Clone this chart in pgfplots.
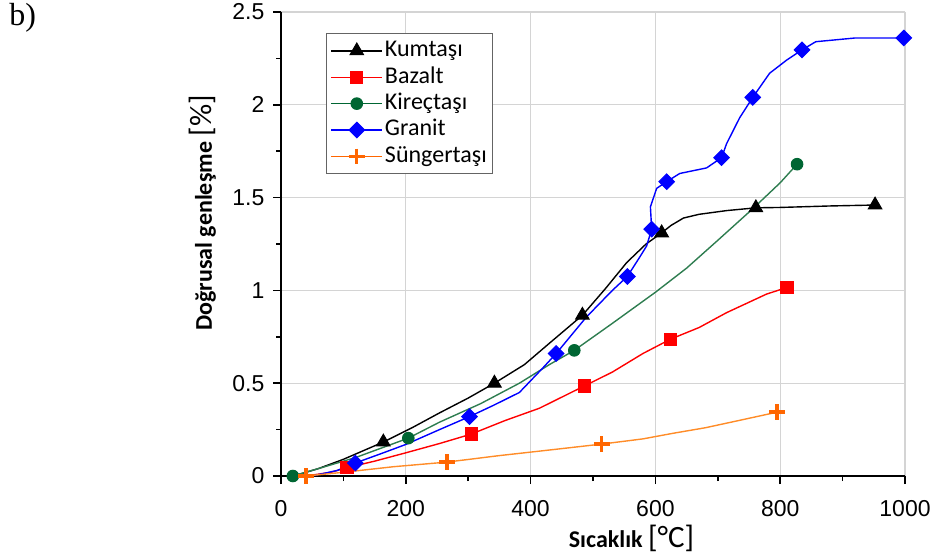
\documentclass[border=0pt]{standalone}
\usepackage{fontspec}
\setmainfont{Carlito}
\newfontfamily\arialfont{Liberation Sans}
\newfontfamily\timesfont{Liberation Serif}
\usepackage{pgfplots}
\pgfplotsset{compat=1.18}
\definecolor{gridgray}{RGB}{212,212,212}
\definecolor{kgreenline}{RGB}{46,125,80}
\definecolor{kgreen}{RGB}{0,102,51}
\definecolor{sorangeline}{RGB}{255,140,40}
\definecolor{sorange}{RGB}{255,102,0}
\definecolor{gblue}{RGB}{0,0,255}
\definecolor{bred}{RGB}{255,0,0}
\pgfplotsset{
  kumline/.style={black, line width=0.7pt},
  kummark/.style={black, mark=triangle*, mark size=3.9pt, mark options={solid, fill=black, line width=0.5pt}},
  bazline/.style={bred, line width=0.7pt},
  bazmark/.style={bred, mark=square*, mark size=3.1pt, mark options={solid, fill=bred, line width=0.5pt}},
  kirline/.style={kgreenline, line width=0.7pt},
  kirmark/.style={kgreen, mark=*, mark size=2.9pt, mark options={solid, fill=kgreen, line width=0.5pt}},
  graline/.style={gblue, line width=0.7pt},
  gramark/.style={gblue, mark=square*, mark size=2.75pt, mark options={solid, fill=gblue, rotate=45, line width=0.5pt}},
  sunline/.style={sorangeline, line width=0.7pt},
  sunmark/.style={sorange, mark=+, mark size=3.9pt, mark options={solid, line width=1.7pt}},
}
\begin{document}
\begin{tikzpicture}
\path[use as bounding box] (0,0) rectangle (465pt,279.5pt);
\node[anchor=base west, font=\timesfont\fontsize{16}{18}\selectfont, inner sep=0pt] at (4.5pt,267pt) {b)};
\begin{axis}[
  at={(140.5pt,41.5pt)}, anchor=south west,
  width=312pt, height=232pt, scale only axis,
  xmin=0, xmax=1000, ymin=0, ymax=2.5,
  axis x line*=bottom, axis y line*=left,
  axis line style={line width=1pt, black},
  xtick={0,200,400,600,800,1000},
  ytick={0,0.5,1,1.5,2,2.5},
  minor x tick num=1, minor y tick num=1,
  tick align=outside, major tick length=4pt, minor tick length=2.5pt,
  every tick/.style={black, line width=0.8pt},
  grid=major, major grid style={gridgray, line width=0.6pt},
  tick label style={font=\arialfont\fontsize{11.5}{13}\selectfont},
  xticklabel style={yshift=-4.5pt},
  yticklabel style={xshift=-0.8pt},
  /pgf/number format/assume math mode=true,
  /pgf/number format/1000 sep={},
  xlabel={\bfseries S\i cakl\i k \mdseries\fontsize{15.5}{15.5}\selectfont[°C]},
  ylabel={\bfseries Do\u{g}rusal genle\c{s}me \mdseries\fontsize{15.5}{15.5}\selectfont[\%]},
  xlabel style={at={(rel axis cs:0.5617,-0.153)}, anchor=base, inner sep=0pt},
  ylabel style={at={(rel axis cs:-0.1106,0.567)}, anchor=base, inner sep=0pt},
  label style={font=\fontsize{12}{13}\selectfont},
  legend style={at={(rel axis cs:0.0721,0.9547)}, anchor=north west,
    draw={rgb,255:red,100;green,100;blue,100}, line width=0.6pt,
    font=\fontsize{12}{13}\selectfont, inner xsep=2pt, inner ysep=2pt,
    nodes={inner sep=1pt, text height=8.5pt, text depth=2.7pt},
    /tikz/every even column/.append style={column sep=2pt}},
  legend cell align=left,
  legend image code/.code={\draw[mark repeat=2,mark phase=2,#1] plot coordinates {(0pt,0pt) (12.75pt,0pt) (25.5pt,0pt)};},
]
\addlegendimage{kumline, kummark}
\addlegendentry{Kumtaşı}
\addlegendimage{bazline, bazmark}
\addlegendentry{Bazalt}
\addlegendimage{kirline, kirmark}
\addlegendentry{Kireçtaşı}
\addlegendimage{graline, gramark}
\addlegendentry{Granit}
\addlegendimage{sunline, sunmark}
\addlegendentry{Süngertaşı}

% lines
\addplot[kumline, forget plot] coordinates {
 (20,0) (60,0.04) (100,0.09) (164,0.183) (210,0.26) (254,0.34) (300,0.42) (342,0.50) (390,0.6) (430,0.715) (483,0.866) (520,1.01) (554,1.15) (585,1.25) (610,1.31) (625,1.35) (645,1.39) (670,1.41) (714,1.43) (761,1.445) (800,1.447) (880,1.455) (952,1.46)};
\addplot[bazline, forget plot] coordinates {
 (40,0) (80,0.02) (106,0.045) (150,0.08) (200,0.125) (254,0.175) (305,0.226) (360,0.30) (414,0.365) (486,0.485) (531,0.56) (580,0.66) (624,0.737) (670,0.80) (714,0.88) (778,0.98) (811,1.016)};
\addplot[kirline, forget plot] coordinates {
 (19,0) (60,0.04) (120,0.1) (204,0.204) (254,0.29) (320,0.39) (382,0.50) (430,0.60) (470,0.677) (530,0.82) (600,0.99) (650,1.12) (700,1.27) (756,1.44) (800,1.58) (827,1.68)};
\addplot[graline, forget plot] coordinates {
 (50,0) (90,0.03) (119,0.07) (160,0.12) (200,0.17) (254,0.25) (302,0.32) (340,0.38) (382,0.45) (419,0.58) (441,0.66) (489,0.855) (531,1.0) (555,1.075) (575,1.18) (586,1.24) (594,1.33) (592,1.45) (602,1.55) (618,1.586) (639,1.63) (682,1.66) (706,1.715) (714,1.79) (735,1.93) (756,2.04) (783,2.17) (810,2.24) (835,2.296) (857,2.34) (920,2.36) (998,2.36)};
\addplot[sunline, forget plot] coordinates {
 (40,0) (100,0.02) (180,0.05) (266,0.075) (350,0.11) (430,0.14) (514,0.172) (580,0.2) (628,0.23) (680,0.26) (735,0.30) (795,0.344)};

% markers
\addplot[kummark, only marks, forget plot] coordinates {
 (164,0.183) (342,0.50) (483,0.866) (610,1.31) (761,1.445) (952,1.46)};
\addplot[bazmark, only marks, forget plot] coordinates {
 (106,0.045) (305,0.226) (486,0.485) (624,0.737) (811,1.016)};
\addplot[kirmark, only marks, forget plot] coordinates {
 (19,0) (204,0.204) (470,0.677) (827,1.68)};
\addplot[gramark, only marks, forget plot] coordinates {
 (119,0.07) (302,0.32) (441,0.66) (555,1.075) (594,1.33) (618,1.586) (706,1.715) (756,2.04) (835,2.296) (998,2.36)};
\addplot[sunmark, only marks, forget plot] coordinates {
 (40,0) (266,0.075) (514,0.172) (795,0.344)};
\end{axis}
\end{tikzpicture}
\end{document}
